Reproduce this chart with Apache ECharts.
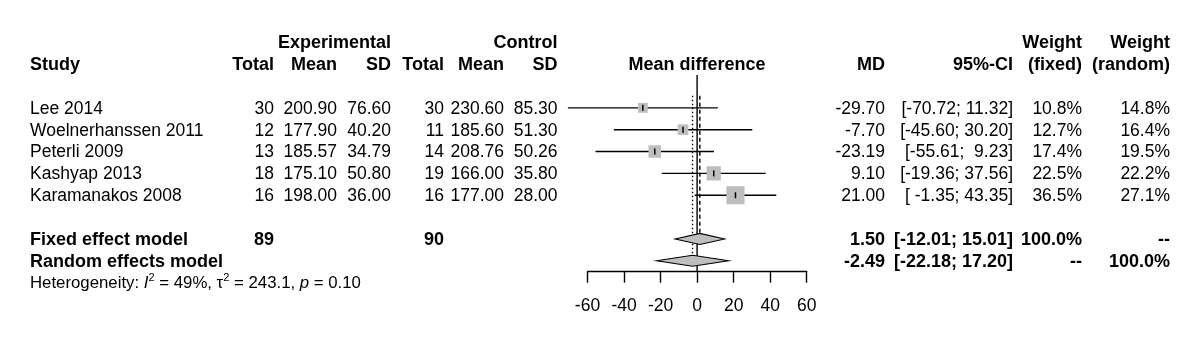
<!DOCTYPE html>
<html><head><meta charset="utf-8">
<script src="https://cdn.jsdelivr.net/npm/echarts@6/dist/echarts.min.js"></script>
<style>html,body{margin:0;padding:0;background:#fff}#c{width:1200px;height:358px}</style>
</head><body><div id="c"></div>
<script>
// ---------------- data ----------------
const studies   = ["Lee 2014", "Woelnerhanssen 2011", "Peterli 2009", "Kashyap 2013", "Karamanakos 2008"];
const expTotal  = [30, 12, 13, 18, 16];
const expMean   = [200.90, 177.90, 185.57, 175.10, 198.00];
const expSD     = [76.60, 40.20, 34.79, 50.80, 36.00];
const ctrlTotal = [30, 11, 14, 19, 16];
const ctrlMean  = [230.60, 185.60, 208.76, 166.00, 177.00];
const ctrlSD    = [85.30, 51.30, 50.26, 35.80, 28.00];
const md        = [-29.70, -7.70, -23.19, 9.10, 21.00];
const ciLow     = [-70.72, -45.60, -55.61, -19.36, -1.35];
const ciHigh    = [11.32, 30.20, 9.23, 37.56, 43.35];
const wFixed    = [10.8, 12.7, 17.4, 22.5, 36.5];
const wRandom   = [14.8, 16.4, 19.5, 22.2, 27.1];
const models    = ["Fixed effect model", "Random effects model"];
const modelMD   = [1.50, -2.49];
const modelLow  = [-12.01, -22.18];
const modelHigh = [15.01, 17.20];
const totals    = [89, 90];
const hetI2 = 49, hetTau2 = 243.1, hetP = 0.10;
const xTicks = [-60, -40, -20, 0, 20, 40, 60];

// ---------------- layout ----------------
const FONT = "'Liberation Sans', Arial, Helvetica, sans-serif";
const FS = 17.5, FSB = 18;
const COLX = {study:30, eTot:274, eMean:337, eSD:391, cTot:444, cMean:504, cSD:557.5,
              md:885, ci:1013, wf:1082, wr:1170};
const studyRows = studies.map((_, i) => i);
const modelRows = [6, 7];
const hetRow = 8;

const f2 = v => v.toFixed(2);
const ciStr = (lo, hi) => "[" + f2(lo).padStart(6, " ") + "; " + f2(hi).padStart(5, " ") + "]";
const pct = v => v.toFixed(1) + "%";

// table cells built from arrays
const cells = [];
function cell(row, col, text, bold, align) { cells.push({row, col, text, bold: !!bold, align: align || 'right'}); }
cell(-3, 'eSD', 'Experimental', true);
cell(-3, 'cSD', 'Control', true);
cell(-3, 'wf', 'Weight', true);
cell(-3, 'wr', 'Weight', true);
cell(-2, 'study', 'Study', true, 'left');
cell(-2, 'eTot', 'Total', true); cell(-2, 'eMean', 'Mean', true); cell(-2, 'eSD', 'SD', true);
cell(-2, 'cTot', 'Total', true); cell(-2, 'cMean', 'Mean', true); cell(-2, 'cSD', 'SD', true);
cell(-2, 'plot', 'Mean difference', true, 'center');
cell(-2, 'md', 'MD', true); cell(-2, 'ci', '95%-CI', true);
cell(-2, 'wf', '(fixed)', true); cell(-2, 'wr', '(random)', true);
studies.forEach((s, i) => {
  const r = studyRows[i];
  cell(r, 'study', s, false, 'left');
  cell(r, 'eTot', String(expTotal[i])); cell(r, 'eMean', f2(expMean[i])); cell(r, 'eSD', f2(expSD[i]));
  cell(r, 'cTot', String(ctrlTotal[i])); cell(r, 'cMean', f2(ctrlMean[i])); cell(r, 'cSD', f2(ctrlSD[i]));
  cell(r, 'md', f2(md[i])); cell(r, 'ci', ciStr(ciLow[i], ciHigh[i]));
  cell(r, 'wf', pct(wFixed[i])); cell(r, 'wr', pct(wRandom[i]));
});
models.forEach((m, k) => {
  const r = modelRows[k];
  cell(r, 'study', m, true, 'left');
  cell(r, 'md', f2(modelMD[k]), true); cell(r, 'ci', ciStr(modelLow[k], modelHigh[k]), true);
});
cell(modelRows[0], 'eTot', String(totals[0]), true);
cell(modelRows[0], 'cTot', String(totals[1]), true);
cell(modelRows[0], 'wf', '100.0%', true); cell(modelRows[0], 'wr', '--', true);
cell(modelRows[1], 'wf', '--', true);     cell(modelRows[1], 'wr', '100.0%', true);
cells.push({row: hetRow, col: 'study', align: 'left', het: true,
  text: 'Heterogeneity: {i|I}{s|2} = ' + hetI2 + '%, τ{s|2} = ' + hetTau2.toFixed(1) + ', {i|p} = ' + hetP.toFixed(2)});

// reference lines: [x, rowStart, rowEnd, kind]
const refLines = [[0, -1.5, 7.5, 'solid'], [modelMD[0], -0.55, modelRows[0], 'dashed'], [modelMD[1], -0.55, modelRows[1], 'dotted']];

const chart = echarts.init(document.getElementById('c'), null, {renderer: 'canvas'});
chart.setOption({
  backgroundColor: '#fff',
  animation: false,
  grid: {left: 587.5, right: 393.3, top: 42.3, bottom: 86.3},
  xAxis: {
    type: 'value', min: xTicks[0], max: xTicks[xTicks.length - 1], interval: 20,
    axisLine: {show: true, onZero: false, lineStyle: {color: '#000', width: 1.4}},
    axisTick: {show: true, length: 11, lineStyle: {color: '#000', width: 1.4}},
    axisLabel: {color: '#000', fontSize: FS, fontFamily: FONT, margin: 25},
    splitLine: {show: false}
  },
  yAxis: {type: 'value', min: -3, max: 7.5, inverse: true, show: false},
  series: [
    { // reference lines
      type: 'custom', clip: false, z: 1,
      data: refLines.map(d => [d[0], d[1], d[2]]),
      renderItem: (p, api) => {
        const kind = refLines[p.dataIndex][3];
        const a = api.coord([api.value(0), api.value(1)]);
        const b = api.coord([api.value(0), api.value(2)]);
        const dash = kind === 'dashed' ? [4, 3] : kind === 'dotted' ? [1.5, 2.5] : null;
        return {type: 'line', shape: {x1: a[0], y1: a[1], x2: b[0], y2: b[1]},
          style: {stroke: '#000', lineWidth: 1.4, lineDash: dash}};
      }
    },
    { // study CIs and squares
      type: 'custom', clip: false, z: 2,
      data: studies.map((_, i) => [md[i], studyRows[i], ciLow[i], ciHigh[i], wFixed[i]]),
      renderItem: (p, api) => {
        const c = api.coord([api.value(0), api.value(1)]);
        const lo = api.coord([api.value(2), api.value(1)]);
        const hi = api.coord([api.value(3), api.value(1)]);
        const s = 3.0 * Math.sqrt(api.value(4));
        return {type: 'group', children: [
          {type: 'line', shape: {x1: lo[0], y1: c[1], x2: hi[0], y2: c[1]}, style: {stroke: '#000', lineWidth: 1.4}},
          {type: 'rect', shape: {x: c[0] - s / 2, y: c[1] - s / 2, width: s, height: s}, style: {fill: '#BEBEBE'}},
          {type: 'line', shape: {x1: c[0], y1: c[1] - 3, x2: c[0], y2: c[1] + 3}, style: {stroke: '#000', lineWidth: 1.5}}
        ]};
      }
    },
    { // diamonds
      type: 'custom', clip: false, z: 3,
      data: models.map((_, k) => [modelMD[k], modelRows[k], modelLow[k], modelHigh[k]]),
      renderItem: (p, api) => {
        const c = api.coord([api.value(0), api.value(1)]);
        const lo = api.coord([api.value(2), api.value(1)]);
        const hi = api.coord([api.value(3), api.value(1)]);
        const h = 5.5;
        return {type: 'polygon', shape: {points: [[lo[0], c[1]], [c[0], c[1] - h], [hi[0], c[1]], [c[0], c[1] + h]]},
          style: {fill: '#BEBEBE', stroke: '#000', lineWidth: 1.1}};
      }
    },
    { // table text
      type: 'custom', clip: false, z: 4,
      data: cells.map(c => [0, c.row]),
      renderItem: (p, api) => {
        const c = cells[p.dataIndex];
        const pt = api.coord([0, api.value(1)]);
        const x = c.col === 'plot' ? pt[0] : COLX[c.col];
        const style = {text: c.text, x: 0, y: 0, align: c.align, verticalAlign: 'middle', fill: '#000',
          fontFamily: FONT, fontSize: c.bold ? FSB : FS, fontWeight: c.bold ? 'bold' : 'normal'};
        let y = pt[1] + 1;
        if (c.het) {
          style.fontSize = 16.8;
          style.rich = {
            i: {fontStyle: 'italic', fontSize: 16.8, fontFamily: FONT, fill: '#000'},
            s: {fontSize: 11, fontFamily: FONT, fill: '#000', padding: [0, 0, 12, 0]}
          };
          y = pt[1] + 1;
        }
        return {type: 'text', x: x, y: y, style: style};
      }
    }
  ]
});
</script></body></html>
